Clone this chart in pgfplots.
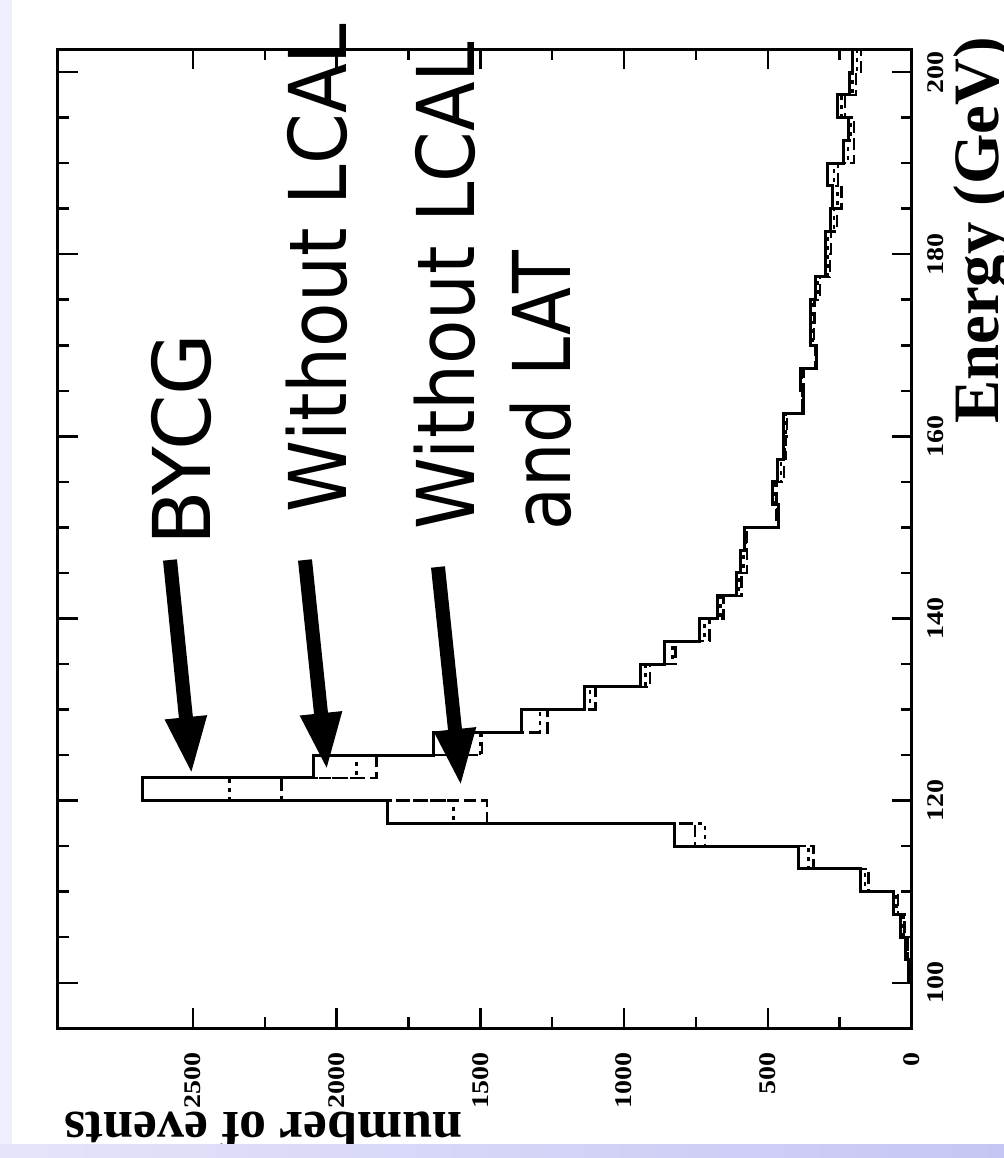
\documentclass[border=0pt]{standalone}
\usepackage{pgfplots}
\pgfplotsset{compat=1.18}
\usepackage{pgfplotstable}
\usepackage{graphicx}
\usepackage{fontspec}
\setmainfont{Liberation Serif}
\newfontfamily\dejavu{DejaVu Sans}
\usetikzlibrary{arrows.meta}
\definecolor{bgl}{RGB}{238,238,252}
\definecolor{bandL}{RGB}{228,228,250}
\definecolor{bandR}{RGB}{198,198,244}
\newcommand\tl[1]{\scalebox{1.17}[1]{\textbf{#1}}}

\pgfplotstableread{
E S X Y
95 0 0 0
97.5 0 0 0
100 10 5 6
102.5 22 12 14
105 40 24 28
107.5 63 48 52
110 176 150 161
112.5 394 341 359
115 826 753 718
117.5 1824 1478 1594
120 2677 2192 2373
122.5 2081 1861 1931
125 1664 1495 1501
127.5 1356 1266 1292
130 1139 1099 1118
132.5 943 909 925
135 859 821 832
137.5 736 703 720
140 676 654 665
142.5 609 591 600
145 596 573 585
147.5 580 572 576
150 463 470 468
152.5 483 470 475
155 465 443 455
157.5 445 436 440
160 445 434 438
162.5 376 382 380
165 387 376 380
167.5 330 335 333
170 353 340 345
172.5 350 337 343
175 335 318 325
177.5 300 283 290
180 300 281 290
182.5 283 260 270
185 274 243 258
187.5 291 256 270
190 237 200 220
192.5 220 200 210
195 256 231 243
197.5 216 193 205
200 204 175 190
202.5 204 175 190
}\hist

\begin{document}
\begin{tikzpicture}
\begin{scope}[x=1bp,y=1bp]
\useasboundingbox (0,0) rectangle (1004,1158);
\fill[bgl] (0,0) rectangle (1004,1158);
\fill[white] (12,13) rectangle (1004,1158);
\end{scope}

\begin{axis}[
  at={(57.6bp,129.7bp)}, anchor=south west, scale only axis,
  width=853.9bp, height=979bp,
  xmin=0, xmax=2971, x dir=reverse,
  ymin=95, ymax=202.5,
  axis line style={line width=3bp},
  xtick={0,500,1000,1500,2000,2500},
  xticklabels={\tl{0},\tl{500},\tl{1000},\tl{1500},\tl{2000},\tl{2500}},
  ytick={100,120,140,160,180,200},
  yticklabels={\tl{100},\tl{120},\tl{140},\tl{160},\tl{180},\tl{200}},
  minor x tick num=1, minor y tick num=3,
  xticklabel pos=lower, yticklabel pos=right,
  xtick pos=both, ytick pos=both,
  tick align=inside,
  major tick length=20bp, minor tick length=11bp,
  every tick/.style={black, line width=2.5bp},
  tick label style={font=\fontsize{24}{24}\selectfont\bfseries, inner sep=0pt},
  xticklabel style={rotate=90, anchor=east, outer xsep=24bp},
  yticklabel style={rotate=90, anchor=north, outer ysep=16bp},
]
\addplot[const plot mark right, line width=2.4bp, black, dash pattern=on 12bp off 5bp] table[x=X, y=E] {\hist};
\addplot[const plot mark right, line width=2.4bp, black, dash pattern=on 4bp off 5bp] table[x=Y, y=E] {\hist};
\addplot[const plot mark right, line width=3bp, black] table[x=S, y=E] {\hist};
\end{axis}

\begin{scope}[x=1bp,y=1bp]
\clip (0,0) rectangle (1004,1158);
% axis titles
\node[rotate=90, anchor=base west, inner sep=0pt, font=\fontsize{65}{65}\selectfont\bfseries] at (998,734) {Energy (GeV)};
\node[rotate=180, anchor=base west, inner sep=0pt, font=\fontsize{54}{54}\selectfont\bfseries] at (462.5,45) {number of events};
% annotations
\begin{scope}[every node/.style={rotate=90, anchor=base west, inner sep=0pt, font=\dejavu\fontsize{80}{80}\selectfont}]
\node at (210.5,612.2) {BYCG};
\node at (346.5,645.5) {\scalebox{0.912}[1]{Without LCAL}};
\node at (474,628.5) {\scalebox{0.91}[1]{Without LCAL}};
\node at (570,627) {\scalebox{0.88}[1]{and LAT}};
\end{scope}
\begin{scope}[line width=14bp, -{Triangle[width=38bp,length=58bp]}]
\draw (170,598) -- (191.7,383);
\draw (305,598) -- (327,387);
\draw (438,591) -- (461,371);
\end{scope}
\shade[left color=bandL, right color=bandR] (0,0) rectangle (1004,13);
\end{scope}
\end{tikzpicture}
\end{document}
